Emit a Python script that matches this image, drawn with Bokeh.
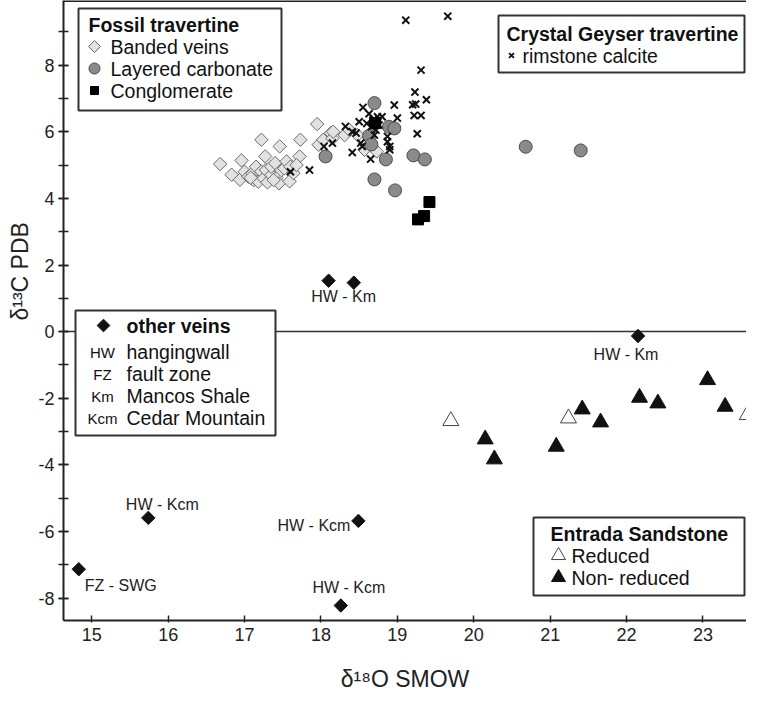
import numpy as np
from bokeh.plotting import figure
from bokeh.models import Range1d, SingleIntervalTicker, Title, CustomJSTickFormatter
from bokeh.core.properties import value
from bokeh.embed import file_html
from bokeh.resources import INLINE

FONT = "Liberation Sans"

# ---------------- data ----------------
# Fossil travertine - banded veins
banded_x = [16.68, 16.83, 16.94, 16.96, 17.00, 17.05, 17.10, 17.12, 17.15, 17.18,
            17.22, 17.22, 17.25, 17.27, 17.28, 17.30, 17.35, 17.35, 17.40, 17.42,
            17.45, 17.46, 17.48, 17.52, 17.55, 17.59, 17.64, 17.72, 17.73, 17.95,
            17.97, 18.03, 18.13, 18.15, 18.16, 18.31, 18.37, 18.48, 18.57, 18.62,
            18.73, 17.38, 17.60, 17.08, 17.68]
banded_y = [5.03, 4.71, 4.56, 5.14, 4.80, 4.65, 4.75, 4.55, 4.95, 4.50,
            5.76, 4.81, 4.60, 5.26, 4.85, 4.48, 4.70, 4.95, 5.06, 4.62,
            4.45, 5.56, 4.85, 4.90, 5.11, 4.51, 4.76, 5.26, 5.76, 6.23,
            5.61, 5.76, 5.96, 5.80, 6.00, 5.90, 6.06, 5.90, 5.46, 5.70,
            5.41, 4.55, 4.95, 4.62, 5.00]
# Fossil travertine - layered carbonate
layered_x = [18.06, 18.63, 18.66, 18.70, 18.70, 18.85, 18.89, 18.96, 18.97, 19.21, 19.36, 20.68, 21.40]
layered_y = [5.26, 5.88, 5.62, 6.86, 4.57, 5.17, 6.15, 6.10, 4.24, 5.29, 5.17, 5.55, 5.44]
# Fossil travertine - conglomerate
congl_x = [18.71, 19.27, 19.35, 19.42]
congl_y = [6.26, 3.37, 3.47, 3.89]
# Crystal Geyser travertine - rimstone calcite
rim_x = [19.11, 19.66, 19.31, 19.23, 19.38, 19.20, 19.24, 18.96, 19.00, 19.22,
         19.31, 19.26, 18.55, 18.63, 18.68, 18.74, 18.80, 18.76, 18.66, 18.32,
         18.41, 18.46, 18.52, 18.54, 18.41, 18.65, 18.87, 18.87, 18.90, 18.90,
         18.04, 18.15, 18.70, 18.60, 18.72, 18.50, 17.60, 17.85]
rim_y = [9.35, 9.47, 7.85, 7.19, 6.96, 6.81, 6.83, 6.80, 6.41, 6.49,
         6.49, 5.94, 6.73, 6.54, 6.35, 6.45, 6.45, 6.20, 6.15, 6.16,
         6.00, 5.96, 5.66, 5.56, 5.38, 5.18, 5.86, 5.70, 5.56, 5.46,
         5.56, 5.66, 5.90, 6.25, 6.05, 6.30, 4.80, 4.85]
# Entrada Sandstone
red_x = [19.70, 21.24, 23.58]
red_y = [-2.68, -2.60, -2.50]
nonred_x = [20.15, 20.27, 21.08, 21.42, 21.66, 22.17, 22.41, 23.06, 23.29]
nonred_y = [-3.23, -3.83, -3.45, -2.33, -2.72, -1.98, -2.15, -1.45, -2.25]
# other veins
vein_x = [18.10, 18.43, 22.15, 15.74, 18.49, 14.83, 18.26]
vein_y = [1.53, 1.47, -0.13, -5.59, -5.68, -7.13, -8.22]
vein_label = ["HW - Km", "", "HW - Km", "HW - Kcm", "HW - Kcm", "FZ - SWG", "HW - Kcm"]

# label placement (pixels, styling only)
vein_dx = [15, 0, -12, 14, -8, 6, 8]
vein_dy = [16, 0, 19, -13, 5, 16, -18]
vein_align = ["center", "center", "center", "center", "right", "left", "center"]

X_TITLE = "δ¹⁸O SMOW"
Y_TITLE = "δ¹³C PDB"

# ---------------- layout ----------------
X0, X1 = 14.63, 23.57
Y0, Y1 = -8.67, 9.94
FW, FH = 683, 620
BL, BT, BB = 63, 0, 67
FRAME_LEFT = 8 + BL
FRAME_TOP = 8 + BT


def X(px):
    return X0 + (px - FRAME_LEFT) * (X1 - X0) / FW


def Y(py):
    return Y1 - (py - FRAME_TOP) * (Y1 - Y0) / FH


p = figure(frame_width=FW, frame_height=FH,
           x_range=Range1d(X0, X1), y_range=Range1d(Y0, Y1),
           output_backend="svg", toolbar_location=None,
           min_border_left=BL, min_border_top=BT, min_border_right=0, min_border_bottom=BB)
p.grid.visible = False
p.outline_line_color = None
p.background_fill_color = "white"
p.border_fill_color = "white"

p.xaxis.ticker = SingleIntervalTicker(interval=1, num_minor_ticks=0)
p.yaxis.ticker = SingleIntervalTicker(interval=2, num_minor_ticks=2)
fmt = CustomJSTickFormatter(code="return String(Math.round(tick));")
for ax in p.axis:
    ax.formatter = fmt
    ax.axis_line_width = 2
    ax.axis_line_color = "#222222"
    ax.major_tick_line_color = "#222222"
    ax.major_tick_line_width = 1.5
    ax.minor_tick_line_color = "#222222"
    ax.minor_tick_line_width = 1.5
    ax.major_label_text_font = FONT
    ax.major_label_text_font_size = "18px"
    ax.major_label_text_color = "#222222"
p.yaxis.major_tick_in = 5
p.yaxis.major_tick_out = 5
p.yaxis.minor_tick_in = 5
p.yaxis.minor_tick_out = 5
p.yaxis.major_label_standoff = 4
p.xaxis.major_tick_in = 5
p.xaxis.major_tick_out = 2
p.xaxis.major_label_standoff = 5

p.xaxis.axis_label = X_TITLE
p.xaxis.axis_label_text_font = FONT
p.xaxis.axis_label_text_font_size = "23px"
p.xaxis.axis_label_text_font_style = "normal"
p.xaxis.axis_label_text_color = "#222222"
p.xaxis.axis_label_standoff = 22

p.add_layout(Title(text=Y_TITLE, align="left", vertical_align="middle", offset=300, standoff=4,
                   text_font=FONT, text_font_size="23px", text_font_style="normal",
                   text_color="#222222"), "left")

# reference lines
p.hspan(y=[0], line_color="#333333", line_width=1.5)
p.hspan(y=[Y1], line_color="#222222", line_width=3)

# ---------------- data marks ----------------
p.scatter(banded_x, banded_y, marker="square", angle=np.pi / 4, size=9.5,
          fill_color="#e2e2e2", line_color="#6a6a6a", line_width=1)
p.scatter(layered_x, layered_y, marker="circle", size=13,
          fill_color="#8a8a8a", line_color="#4d4d4d", line_width=1)
p.scatter(rim_x, rim_y, marker="x", size=10, line_color="#111111", line_width=2)
p.scatter(congl_x, congl_y, marker="square", size=11, fill_color="#000000", line_color="#000000")
p.scatter(vein_x, vein_y, marker="square", angle=np.pi / 4, size=9.5,
          fill_color="#111111", line_color="#111111")
p.scatter(red_x, red_y, marker="triangle", size=16, fill_color="white", line_color="#444444", line_width=1)
p.scatter(nonred_x, nonred_y, marker="triangle", size=16, fill_color="#111111", line_color="#111111")

for i, t in enumerate(vein_label):
    if not t:
        continue
    p.text(x=[vein_x[i]], y=[vein_y[i]], text=[t], x_offset=vein_dx[i], y_offset=vein_dy[i],
           text_align=vein_align[i], text_baseline="middle", text_font=value(FONT),
           text_font_size="16px", text_color="#222222")

# ---------------- legends (drawn as boxes) ----------------
BOX = dict(fill_color="white", line_color="#333333", line_width=2)


def box(l, t, r, b):
    p.quad(left=[X(l)], right=[X(r)], top=[Y(t)], bottom=[Y(b)], **BOX)


def txt(px, py, s, size="19.5px", bold=False, align="left"):
    p.text(x=[X(px)], y=[Y(py)], text=[s], text_align=align, text_baseline="middle",
           text_font=value(FONT), text_font_size=size,
           text_font_style="bold" if bold else "normal", text_color="#111111")


# Fossil travertine
box(86, 16, 289, 118)
txt(96, 32, "Fossil travertine", bold=True)
p.scatter([X(102)], [Y(54)], marker="square", angle=np.pi / 4, size=8.5,
          fill_color="#e2e2e2", line_color="#6a6a6a", line_width=1)
txt(118, 54, "Banded veins")
p.scatter([X(102)], [Y(76)], marker="circle", size=11, fill_color="#8a8a8a", line_color="#4d4d4d")
txt(118, 76, "Layered carbonate")
p.scatter([X(102)], [Y(98)], marker="square", size=8, fill_color="#000000", line_color="#000000")
txt(118, 98, "Conglomerate")

# Crystal Geyser travertine
box(506, 23, 752, 80)
txt(514, 41, "Crystal Geyser travertine", bold=True)
p.scatter([X(519)], [Y(63)], marker="x", size=7, line_color="#111111", line_width=1.8)
txt(530, 63, "rimstone calcite")

# other veins
box(83, 318, 283, 443)
p.scatter([X(111)], [Y(333)], marker="square", angle=np.pi / 4, size=9,
          fill_color="#111111", line_color="#111111")
txt(134, 333, "other veins", bold=True)
for py, ab, desc in [(359, "HW", "hangingwall"), (381, "FZ", "fault zone"),
                     (403, "Km", "Mancos Shale"), (425, "Kcm", "Cedar Mountain")]:
    txt(110, py + 1, ab, size="15px", align="center")
    txt(134, py, desc)

# Entrada Sandstone
box(541, 525, 752, 603)
txt(558, 541, "Entrada Sandstone", bold=True)
p.scatter([X(566)], [Y(563)], marker="triangle", size=14, fill_color="white", line_color="#444444")
txt(579, 563, "Reduced")
p.scatter([X(566)], [Y(585)], marker="triangle", size=14, fill_color="#111111", line_color="#111111")
txt(579, 585, "Non- reduced")

open("out.html", "w").write(file_html(p, INLINE))
